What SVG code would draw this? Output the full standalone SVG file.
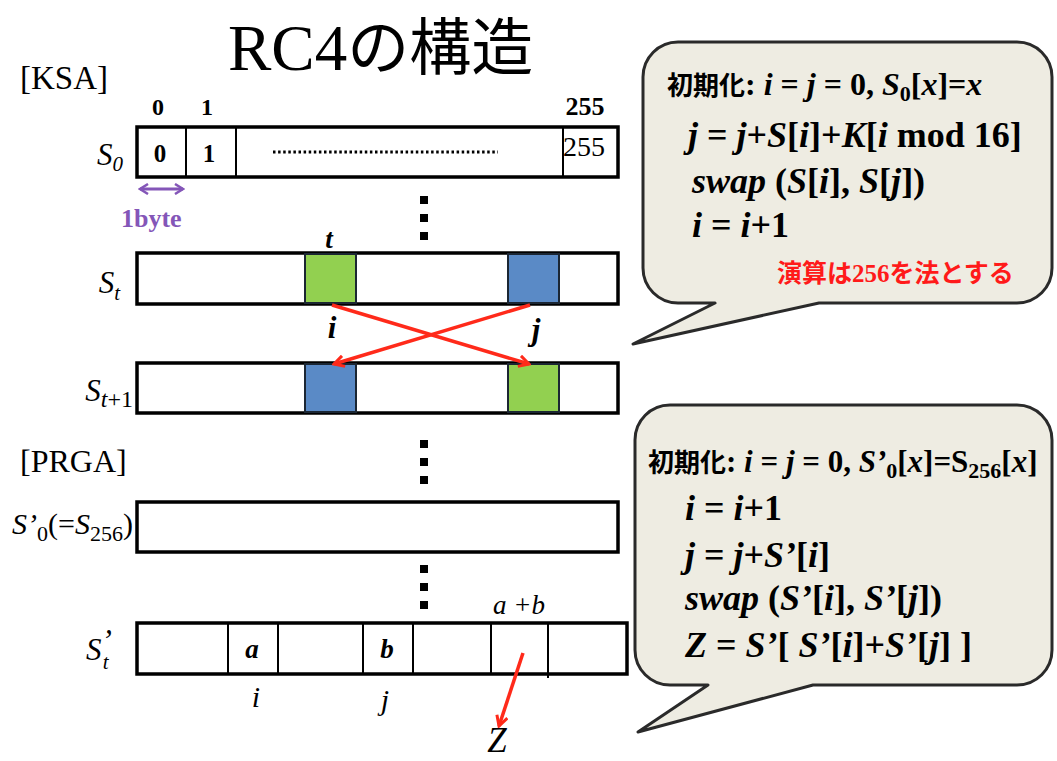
<svg xmlns="http://www.w3.org/2000/svg" width="1057" height="761" viewBox="0 0 1057 761">
<style>
.cj{font-family:"Noto Sans CJK JP",sans-serif;font-weight:bold;stroke:none}
.ct{font-family:"Noto Sans CJK JP",sans-serif}
.it{font-style:italic}
.up{font-style:normal}
.box{fill:#fff;stroke:#000;stroke-width:3.5}
.dv{stroke:#000;stroke-width:2}
.gr{fill:#92D050;stroke:#1b2633;stroke-width:2}
.bl{fill:#5A8AC6;stroke:#1b2633;stroke-width:2}
.dot{fill:#000}
.co{fill:#EEECE2;stroke:#2a2a2a;stroke-width:3;stroke-linejoin:round}
.red{stroke:#FF2A1A;stroke-width:3.5;fill:none}
.pur{stroke:#8456B8;stroke-width:3;fill:none}
</style>
<defs>
<marker id="ar" viewBox="0 0 14 14" refX="12" refY="7" markerWidth="14" markerHeight="14" markerUnits="userSpaceOnUse" orient="auto">
<path d="M2,1.5 L12,7 L2,12.5" fill="none" stroke="#FF2A1A" stroke-width="3"/>
</marker>
<marker id="ap" viewBox="0 0 12 12" refX="10" refY="6" markerWidth="12" markerHeight="12" markerUnits="userSpaceOnUse" orient="auto-start-reverse">
<path d="M2,1 L10,6 L2,11" fill="none" stroke="#8456B8" stroke-width="2.5"/>
</marker>
</defs>
<rect width="1057" height="761" fill="#fff"/>

<g font-family="Liberation Serif, Times New Roman, serif">
<text id="title" x="228" y="70" font-size="65">RC4<tspan class="ct" font-size="62">の構造</tspan></text>

<g id="labels">
<text x="20" y="89" font-size="33">[KSA]</text>
<text x="20" y="472" font-size="32">[PRGA]</text>
<g font-weight="bold">
<text font-size="24" x="158" y="115" text-anchor="middle">0</text>
<text font-size="24" x="207" y="115" text-anchor="middle">1</text>
<text font-size="26" x="585" y="115" text-anchor="middle">255</text>
</g>
</g>

<g id="S0">
<rect class="box" x="137" y="127" width="481" height="50"/>
<line class="dv" x1="186" y1="127" x2="186" y2="177"/>
<line class="dv" x1="236" y1="127" x2="236" y2="177"/>
<line class="dv" x1="563" y1="127" x2="563" y2="177"/>
<text font-weight="bold" font-size="25" x="160" y="162" text-anchor="middle">0</text>
<text font-weight="bold" font-size="25" x="209" y="162" text-anchor="middle">1</text>
<line x1="273" y1="152" x2="498" y2="152" stroke="#000" stroke-width="3" stroke-dasharray="2.5 2.6"/>
<text font-size="28" x="563" y="156">255</text>
<text class="it" font-size="31" x="123" y="165" text-anchor="end">S<tspan font-size="21" dy="6">0</tspan></text>
</g>

<g id="byte">
<line class="pur" x1="140" y1="189" x2="183" y2="189" marker-start="url(#ap)" marker-end="url(#ap)"/>
<text font-weight="bold" font-size="26" x="121" y="227" fill="#8456B8">1byte</text>
</g>

<g id="St">
<rect class="box" x="137" y="253" width="481" height="51"/>
<rect class="gr" x="305" y="254" width="51" height="49"/>
<rect class="bl" x="508" y="254" width="51" height="49"/>
<text font-weight="bold" font-style="italic" font-size="27" x="329" y="248" text-anchor="middle">t</text>
<text class="it" font-size="31" x="120" y="293" text-anchor="end">S<tspan font-size="21" dy="7">t</tspan></text>
<text font-weight="bold" font-style="italic" font-size="31" x="332" y="338" text-anchor="middle">i</text>
<text font-weight="bold" font-style="italic" font-size="31" x="536" y="340" text-anchor="middle">j</text>
</g>

<g id="St1">
<rect class="box" x="137" y="363" width="481" height="50"/>
<rect class="bl" x="305" y="364" width="51" height="48"/>
<rect class="gr" x="508" y="364" width="51" height="48"/>
<text class="it" font-size="31" x="133" y="401" text-anchor="end">S<tspan font-size="24" dy="6">t</tspan><tspan class="up" font-size="24">+1</tspan></text>
</g>

<g id="Sp0">
<rect class="box" x="137" y="502" width="481" height="50"/>
<text font-size="30" x="133" y="534" text-anchor="end"><tspan class="it">S’</tspan><tspan font-size="22" dy="7">0</tspan><tspan dy="-7">(=</tspan><tspan class="it">S</tspan><tspan font-size="22" dy="7">256</tspan><tspan dy="-7">)</tspan></text>
</g>

<g id="Spt">
<rect class="box" x="137" y="623" width="490" height="51"/>
<line class="dv" x1="228" y1="623" x2="228" y2="674"/>
<line class="dv" x1="278" y1="623" x2="278" y2="674"/>
<line class="dv" x1="363" y1="623" x2="363" y2="674"/>
<line class="dv" x1="413" y1="623" x2="413" y2="674"/>
<line class="dv" x1="491" y1="623" x2="491" y2="674"/>
<line class="dv" x1="548" y1="623" x2="548" y2="678"/>
<text font-weight="bold" font-style="italic" font-size="27" x="252" y="658" text-anchor="middle">a</text>
<text font-weight="bold" font-style="italic" font-size="27" x="387" y="658" text-anchor="middle">b</text>
<text class="it" font-size="30" x="256" y="707" text-anchor="middle">i</text>
<text class="it" font-size="30" x="385" y="710" text-anchor="middle">j</text>
<text class="it" font-size="27" x="493" y="614">a +b</text>
<text class="it" font-size="35" x="497" y="752" text-anchor="middle">Z</text>
<text class="it" font-size="31" x="86" y="660">S<tspan dy="-9">’</tspan><tspan font-size="21" dx="-9" dy="18">t</tspan></text>
</g>

<g id="dots">
<rect class="dot" x="420" y="196" width="8" height="8"/>
<rect class="dot" x="420" y="214" width="8" height="8"/>
<rect class="dot" x="420" y="232" width="8" height="8"/>
<rect class="dot" x="420" y="440" width="8" height="8"/>
<rect class="dot" x="420" y="458" width="8" height="8"/>
<rect class="dot" x="420" y="476" width="8" height="8"/>
<rect class="dot" x="420" y="565" width="8" height="8"/>
<rect class="dot" x="420" y="583" width="8" height="8"/>
<rect class="dot" x="420" y="601" width="8" height="8"/>
</g>

<g id="connectors">
<line class="red" x1="332" y1="305" x2="529" y2="364" marker-end="url(#ar)"/>
<line class="red" x1="530" y1="305" x2="334" y2="364" marker-end="url(#ar)"/>
<line class="red" x1="523" y1="653" x2="499" y2="726" marker-end="url(#ar)"/>
</g>

<g id="callout1">
<path class="co" d="M678,42 H1017 A35,35 0 0 1 1052,77 V268 A35,35 0 0 1 1017,303 H819 L633,344 L715,303 H678 A35,35 0 0 1 643,268 V77 A35,35 0 0 1 678,42 Z"/>
<g font-weight="bold">
<text font-size="32" x="667" y="95"><tspan class="cj" font-size="26">初期化</tspan>:  <tspan class="it">i</tspan> = <tspan class="it">j</tspan> = 0,  <tspan class="it">S</tspan><tspan font-size="22" dy="6">0</tspan><tspan dy="-6">[</tspan><tspan class="it">x</tspan>]=<tspan class="it">x</tspan></text>
<text font-size="36" x="688" y="147"><tspan class="it">j</tspan> = <tspan class="it">j</tspan>+<tspan class="it">S</tspan>[<tspan class="it">i</tspan>]+<tspan class="it">K</tspan>[<tspan class="it">i</tspan> mod 16]</text>
<text font-size="36" x="692" y="193"><tspan class="it">swap</tspan> (<tspan class="it">S</tspan>[<tspan class="it">i</tspan>], <tspan class="it">S</tspan>[<tspan class="it">j</tspan>])</text>
<text font-size="36" x="692" y="237"><tspan class="it">i</tspan> = <tspan class="it">i</tspan>+1</text>
<text class="cj" font-size="25" x="777" y="282" fill="#FF1A1A">演算は<tspan font-family="Liberation Serif, serif">256</tspan>を法とする</text>
</g>
</g>

<g id="callout2">
<path class="co" d="M670,405 H1017 A35,35 0 0 1 1052,440 V650 A35,35 0 0 1 1017,685 H813 L638,732 L708,685 H670 A35,35 0 0 1 635,650 V440 A35,35 0 0 1 670,405 Z"/>
<g font-weight="bold">
<text font-size="31" x="648" y="472"><tspan class="cj" font-size="26">初期化</tspan>: <tspan class="it">i</tspan> = <tspan class="it">j</tspan> = 0, <tspan class="it">S’</tspan><tspan font-size="22" dy="6">0</tspan><tspan dy="-6">[</tspan><tspan class="it">x</tspan>]=S<tspan font-size="22" dy="6">256</tspan><tspan dy="-6">[</tspan><tspan class="it">x</tspan>]</text>
<text font-size="36" x="685" y="520"><tspan class="it">i</tspan> = <tspan class="it">i</tspan>+1</text>
<text font-size="36" x="685" y="567"><tspan class="it">j</tspan> = <tspan class="it">j</tspan>+<tspan class="it">S’</tspan>[<tspan class="it">i</tspan>]</text>
<text font-size="36" x="685" y="610"><tspan class="it">swap</tspan> (<tspan class="it">S’</tspan>[<tspan class="it">i</tspan>], <tspan class="it">S’</tspan>[<tspan class="it">j</tspan>])</text>
<text font-size="36" x="685" y="657"><tspan class="it">Z</tspan> = <tspan class="it">S’</tspan>[ <tspan class="it">S’</tspan>[<tspan class="it">i</tspan>]+<tspan class="it">S’</tspan>[<tspan class="it">j</tspan>] ]</text>
</g>
</g>
</g>
</svg>
